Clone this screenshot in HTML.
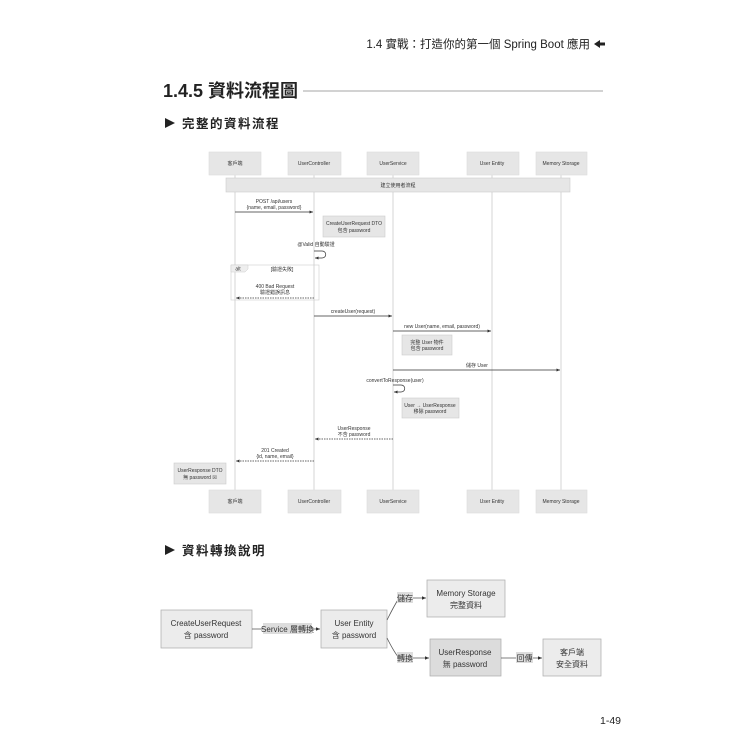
<!DOCTYPE html>
<html><head><meta charset="utf-8"><style>
html,body{margin:0;padding:0;background:#fff;width:750px;height:750px;overflow:hidden}
svg{display:block}
text{font-family:"Liberation Sans","Noto Sans CJK TC",sans-serif;fill:#333}
.s{font-size:5px;text-anchor:middle}
.m{font-size:8px;text-anchor:middle}
</style></head><body>
<svg width="750" height="750" viewBox="0 0 750 750" xmlns="http://www.w3.org/2000/svg">
<defs>
<marker id="a" markerWidth="6" markerHeight="6" refX="5" refY="3" orient="auto"><path d="M0,0.8 L5,3 L0,5.2z" fill="#333"/></marker>
</defs>
<text x="590" y="48" style="font-size:11.5px;text-anchor:end;fill:#222">1.4  實戰：打造你的第一個 Spring Boot 應用</text>
<path d="M594,44 l6,-4 v2.5 h5 v3 h-5 v2.5z" fill="#222"/>
<text x="163" y="97" style="font-size:18px;font-weight:bold;fill:#222">1.4.5  資料流程圖</text>
<line x1="303" y1="91" x2="603" y2="91" stroke="#888" stroke-width="0.8"/>
<path d="M165,118 l10,5 l-10,5z" fill="#222"/>
<text x="182" y="128" style="font-size:12.5px;font-weight:bold;fill:#222;letter-spacing:1.5px">完整的資料流程</text>
<path d="M165,545 l10,5 l-10,5z" fill="#222"/>
<text x="182" y="555" style="font-size:12.5px;font-weight:bold;fill:#222;letter-spacing:1.5px">資料轉換說明</text>

<!-- lifelines -->
<g stroke="#ccc" stroke-width="0.8">
<line x1="235" y1="175" x2="235" y2="490"/><line x1="314" y1="175" x2="314" y2="490"/>
<line x1="393" y1="175" x2="393" y2="490"/><line x1="492" y1="175" x2="492" y2="490"/>
<line x1="561" y1="175" x2="561" y2="490"/>
</g>
<g fill="#e6e6e6" stroke="#ddd" stroke-width="0.6">
<rect x="209" y="152" width="52" height="23"/><rect x="288" y="152" width="53" height="23"/>
<rect x="367" y="152" width="52" height="23"/><rect x="467" y="152" width="52" height="23"/>
<rect x="536" y="152" width="51" height="23"/>
<rect x="209" y="490" width="52" height="23"/><rect x="288" y="490" width="53" height="23"/>
<rect x="367" y="490" width="52" height="23"/><rect x="467" y="490" width="52" height="23"/>
<rect x="536" y="490" width="51" height="23"/>
</g>
<g class="s">
<text x="235" y="165" class="s">客戶端</text><text x="314" y="165" class="s">UserController</text>
<text x="393" y="165" class="s">UserService</text><text x="492" y="165" class="s">User Entity</text>
<text x="561" y="165" class="s">Memory Storage</text>
<text x="235" y="503" class="s">客戶端</text><text x="314" y="503" class="s">UserController</text>
<text x="393" y="503" class="s">UserService</text><text x="492" y="503" class="s">User Entity</text>
<text x="561" y="503" class="s">Memory Storage</text>
</g>
<rect x="226" y="178" width="344" height="14" fill="#e6e6e6" stroke="#ccc" stroke-width="0.6"/>
<text x="398" y="187" class="s">建立使用者流程</text>

<text x="274" y="203" class="s">POST /api/users</text>
<text x="274" y="209" class="s">{name, email, password}</text>
<line x1="235" y1="212" x2="313" y2="212" stroke="#333" stroke-width="0.7" marker-end="url(#a)"/>
<rect x="323" y="216" width="62" height="21" fill="#e6e6e6" stroke="#ccc" stroke-width="0.6"/>
<text x="354" y="225" class="s">CreateUserRequest DTO</text><text x="354" y="232" class="s">包含 password</text>
<text x="316" y="246" class="s">@Valid 自動驗證</text>
<path d="M314,251 h8 c5,0 5,7 0,7 h-7" fill="none" stroke="#333" stroke-width="0.7" marker-end="url(#a)"/>
<rect x="231" y="265" width="88" height="35" fill="none" stroke="#ccc" stroke-width="0.6"/>
<path d="M231,265 h17 v4 l-3,3 h-14z" fill="#eee" stroke="#ccc" stroke-width="0.5"/>
<text x="238" y="270.5" class="s">alt</text>
<text x="282" y="271" class="s">[驗證失敗]</text>
<text x="275" y="288" class="s">400 Bad Request</text><text x="275" y="294" class="s">驗證錯誤訊息</text>
<line x1="314" y1="298" x2="236" y2="298" stroke="#333" stroke-width="0.7" stroke-dasharray="1.5,1" marker-end="url(#a)"/>
<text x="353" y="313" class="s">createUser(request)</text>
<line x1="314" y1="316" x2="392" y2="316" stroke="#333" stroke-width="0.7" marker-end="url(#a)"/>
<text x="442" y="328" class="s">new User(name, email, password)</text>
<line x1="393" y1="331" x2="491" y2="331" stroke="#333" stroke-width="0.7" marker-end="url(#a)"/>
<rect x="402" y="335" width="50" height="20" fill="#e6e6e6" stroke="#ccc" stroke-width="0.6"/>
<text x="427" y="344" class="s">完整 User 物件</text><text x="427" y="350" class="s">包含 password</text>
<text x="477" y="367" class="s">儲存 User</text>
<line x1="393" y1="370" x2="560" y2="370" stroke="#333" stroke-width="0.7" marker-end="url(#a)"/>
<text x="395" y="382" class="s">convertToResponse(user)</text>
<path d="M393,385 h8 c5,0 5,7 0,7 h-7" fill="none" stroke="#333" stroke-width="0.7" marker-end="url(#a)"/>
<rect x="402" y="398" width="57" height="20" fill="#e6e6e6" stroke="#ccc" stroke-width="0.6"/>
<text x="430" y="407" class="s">User → UserResponse</text><text x="430" y="413" class="s">移除 password</text>
<text x="354" y="430" class="s">UserResponse</text><text x="354" y="436" class="s">不含 password</text>
<line x1="393" y1="439" x2="315" y2="439" stroke="#333" stroke-width="0.7" stroke-dasharray="1.5,1" marker-end="url(#a)"/>
<text x="275" y="452" class="s">201 Created</text><text x="275" y="458" class="s">{id, name, email}</text>
<line x1="314" y1="461" x2="236" y2="461" stroke="#333" stroke-width="0.7" stroke-dasharray="1.5,1" marker-end="url(#a)"/>
<rect x="174" y="463" width="52" height="21" fill="#e6e6e6" stroke="#ccc" stroke-width="0.6"/>
<text x="200" y="472" class="s">UserResponse DTO</text><text x="200" y="479" class="s">無 password ☒</text>

<!-- bottom diagram -->
<g fill="#ececec" stroke="#aaa" stroke-width="0.7">
<rect x="161" y="610" width="91" height="38"/>
<rect x="321" y="610" width="66" height="38"/>
<rect x="427" y="580" width="78" height="37"/>
<rect x="430" y="639" width="71" height="37" fill="#dcdcdc"/>
<rect x="543" y="639" width="58" height="37"/>
</g>
<text x="206" y="626" class="m">CreateUserRequest</text><text x="206" y="638" class="m">含 password</text>
<text x="354" y="626" class="m">User Entity</text><text x="354" y="638" class="m">含 password</text>
<text x="466" y="596" class="m">Memory Storage</text><text x="466" y="608" class="m">完整資料</text>
<text x="465" y="655" class="m">UserResponse</text><text x="465" y="667" class="m">無 password</text>
<text x="572" y="655" class="m">客戶端</text><text x="572" y="667" class="m">安全資料</text>
<g stroke="#555" stroke-width="0.8" fill="none">
<line x1="252" y1="629" x2="320" y2="629" marker-end="url(#a)"/>
<path d="M387,620 q7,-14 12,-22 h27" marker-end="url(#a)"/>
<path d="M387,638 q7,14 12,20 h30" marker-end="url(#a)"/>
<line x1="501" y1="658" x2="542" y2="658" marker-end="url(#a)"/>
</g>
<rect x="263" y="623" width="49" height="11" fill="#ddd"/>
<text x="287.5" y="632" class="m">Service 層轉換</text>
<rect x="397" y="592" width="16" height="11" fill="#ddd"/>
<text x="405" y="601" class="m">儲存</text>
<rect x="397" y="652" width="16" height="11" fill="#ddd"/>
<text x="405" y="661" class="m">轉換</text>
<rect x="516" y="652" width="17" height="11" fill="#ddd"/>
<text x="524.5" y="661" class="m">回傳</text>

<text x="600" y="724" style="font-size:10.5px;fill:#222">1-49</text>
</svg>
</body></html>
